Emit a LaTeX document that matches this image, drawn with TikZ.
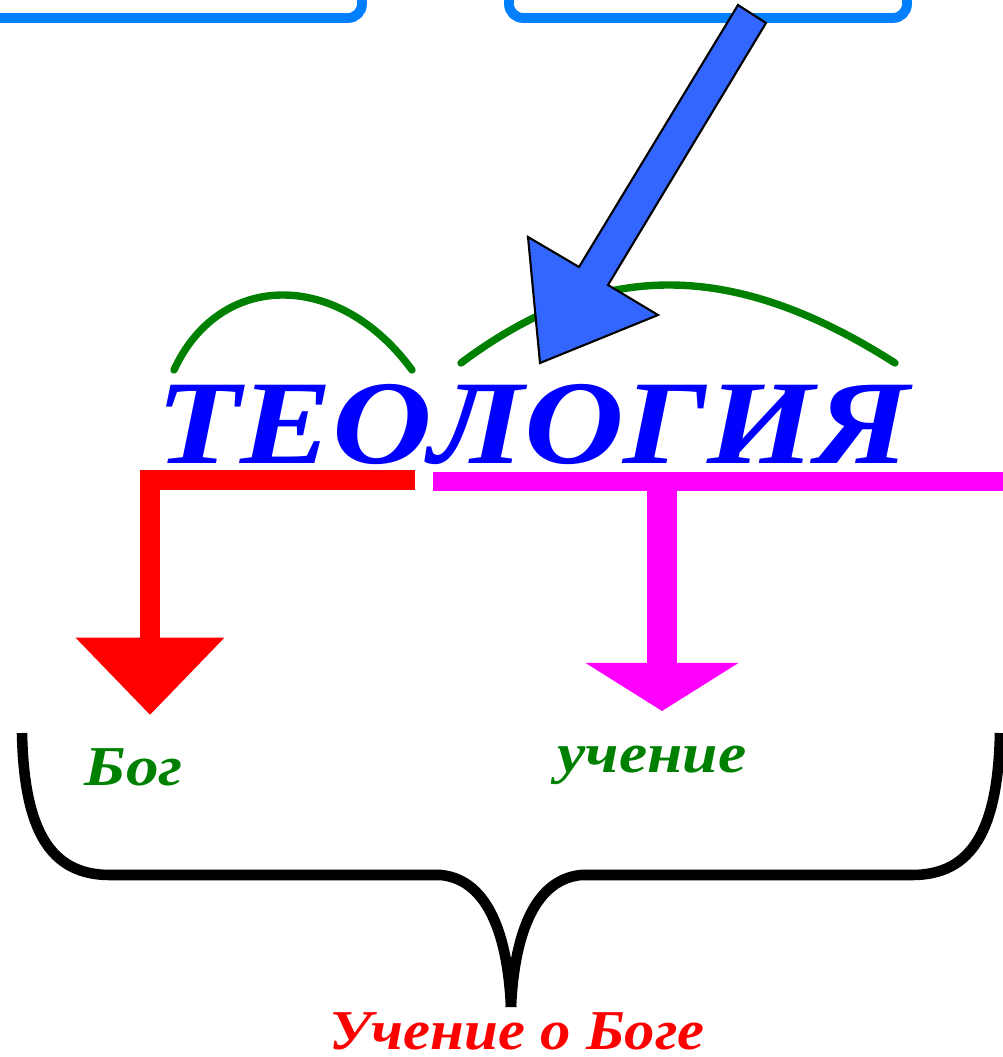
\documentclass[tikz,border=0pt]{standalone}
\usepackage{fontspec}
\setmainfont{Liberation Serif}
\usetikzlibrary{arrows.meta}
\definecolor{boxblue}{RGB}{0,128,255}
\definecolor{arrowblue}{RGB}{51,102,255}
\definecolor{leafgreen}{RGB}{0,128,0}
\definecolor{pink}{RGB}{255,0,255}
\begin{document}
\begin{tikzpicture}[x=0.01cm,y=-0.01cm,>=latex]
    \useasboundingbox (0,0) rectangle (1002,1057);
    \draw[boxblue,line width=2.8pt,rounded corners=4pt] (-60,-100) rectangle (362,18);
    \draw[boxblue,line width=2.8pt,rounded corners=4pt] (509,-100) rectangle (907,18);
    \path[blue] (533,463) node[anchor=base,font=\fontsize{34}{36}\selectfont\bfseries\itshape](theo){\scalebox{1.155}[1]{ТЕОЛОГИЯ}};
    \path[leafgreen,font=\fontsize{16}{18}\selectfont\bfseries\itshape] (134,785) node[anchor=base](bog){\scalebox{1.16}[1]{Бог}} (652,772) node[anchor=base](uch){\scalebox{1.13}[1]{учение}};
    \path[red] (517,1049) node[anchor=base,font=\fontsize{16}{18}\selectfont\bfseries\itshape](whole){\scalebox{1.08}[1]{Учение о Боге}};
    \draw[leafgreen,line width=2.1pt,line cap=round] (174,370) .. controls (220,270) and (339,270) .. (412,370);
    \draw[leafgreen,line width=2.1pt,line cap=round] (461,363) .. controls (600,259) and (732,259) .. (895,363);
    \draw[fill=arrowblue,line width=0.6pt,line join=miter] (738,5) -- (766,23) -- (608,285) -- (658,315) -- (540,363) -- (528,237) -- (579,267) -- cycle;
    \coordinate (redbar) at (415,480);
    \coordinate (redtip) at (150,715);
    \coordinate (pinkbar) at (433,481.5);
    \coordinate (pinkend) at (1010,481.5);
    \coordinate (pinkfoot) at (662,491);
    \coordinate (pinktip) at (662,711);
    \draw[red,line width=5.7pt,-{Triangle[width=41pt,length=22pt]}] (redbar) -- (redbar -| redtip) -- (redtip);
    \draw[pink,line width=5.4pt] (pinkbar) -- (pinkend);
    \draw[pink,line width=8.5pt,-{Triangle[width=43pt,length=13.7pt]}] (pinkfoot) -- (pinktip);
    \draw[line width=3pt] (22,733) .. controls (24,830) and (50,875) .. (110,875) -- (441,875) .. controls (490,880) and (508,940) .. (511,1007);
    \draw[line width=3pt] (1000,733) .. controls (998,830) and (972,875) .. (912,875) -- (581,875) .. controls (532,880) and (514,940) .. (511,1007);
  \end{tikzpicture}
\end{document}
